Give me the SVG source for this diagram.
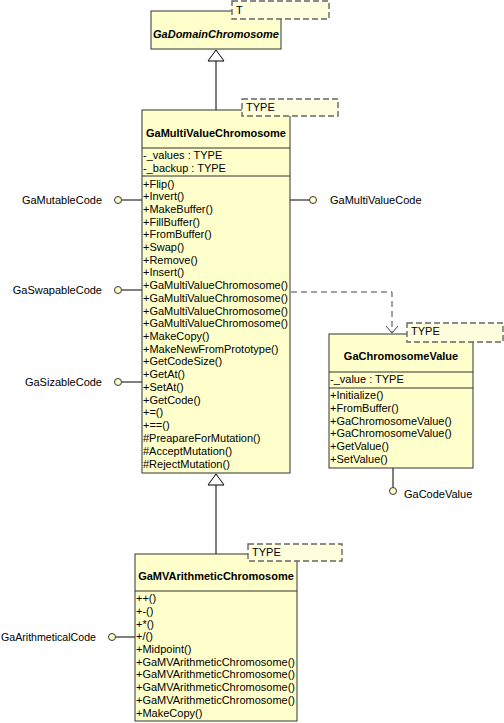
<svg xmlns="http://www.w3.org/2000/svg" width="504" height="723" viewBox="0 0 504 723">
<style>
.cls{fill:#ffffcc;stroke:#333;stroke-width:1}
.tpl{fill:#ffffdd;stroke:#666;stroke-width:1.4;stroke-dasharray:6,3}
.sep{stroke:#333;stroke-width:1}
text{font-family:"Liberation Sans",Arial,sans-serif;font-size:11px;fill:#000}
.name{font-weight:bold;text-anchor:middle}
.ital{font-style:italic}
.ln{stroke:#000;stroke-width:1;fill:none}
.dash{stroke:#444;stroke-width:1;fill:none;stroke-dasharray:6,4}
.lol{fill:#ffffcc;stroke:#333;stroke-width:1}
.tri{fill:#fff;stroke:#000;stroke-width:1}
</style>
<g id="connectors">
<line class="ln" x1="216" y1="61" x2="216" y2="110"/>
<polygon class="tri" points="216,50 208,61 224,61"/>
<line class="ln" x1="216" y1="485" x2="216" y2="554"/>
<polygon class="tri" points="216,474 208,485 224,485"/>
<polyline class="dash" points="291,292 392,292 392,333"/>
<polyline class="ln" points="386,326 392,333 398,326" style="stroke:#444"/>
<line class="ln" x1="122" y1="200" x2="142" y2="200"/>
<line class="ln" x1="122" y1="290" x2="142" y2="290"/>
<line class="ln" x1="122" y1="382" x2="142" y2="382"/>
<line class="ln" x1="290" y1="200" x2="309" y2="200"/>
<line class="ln" x1="116" y1="637" x2="135" y2="637"/>
<line class="ln" x1="393" y1="468" x2="393" y2="487"/>
</g>
<g id="GaMutableCode">
<circle class="lol" cx="118" cy="200" r="3.5"/>
<text x="102" y="204" text-anchor="end">GaMutableCode</text>
</g>
<g id="GaSwapableCode">
<circle class="lol" cx="118" cy="290" r="3.5"/>
<text x="102" y="294" text-anchor="end">GaSwapableCode</text>
</g>
<g id="GaSizableCode">
<circle class="lol" cx="118" cy="382" r="3.5"/>
<text x="102" y="386" text-anchor="end">GaSizableCode</text>
</g>
<g id="GaArithmeticalCode">
<circle class="lol" cx="112" cy="637" r="3.5"/>
<text x="1" y="641" textLength="95" lengthAdjust="spacingAndGlyphs">GaArithmeticalCode</text>
</g>
<g id="GaMultiValueCode">
<circle class="lol" cx="313" cy="200" r="3.5"/>
<text x="330" y="204">GaMultiValueCode</text>
</g>
<g id="GaCodeValue">
<circle class="lol" cx="393" cy="491" r="3.5"/>
<text x="404" y="498">GaCodeValue</text>
</g>
<g id="GaDomainChromosome">
<rect class="cls" x="151" y="11" width="130" height="38"/>
<rect class="tpl" x="232" y="1" width="97" height="18"/>
<text x="236" y="14">T</text>
<text class="name ital" x="216" y="38">GaDomainChromosome</text>
</g>
<g id="GaMultiValueChromosome">
<rect class="cls" x="142" y="110" width="148" height="363"/>
<line class="sep" x1="142" y1="148" x2="290" y2="148"/>
<line class="sep" x1="142" y1="176" x2="290" y2="176"/>
<rect class="tpl" x="242" y="99" width="96" height="17"/>
<text x="246" y="111">TYPE</text>
<text class="name" x="216" y="137">GaMultiValueChromosome</text>
<text x="143" y="159">-_values : TYPE</text>
<text x="143" y="172">-_backup : TYPE</text>
<text x="143" y="188">+Flip()</text>
<text x="143" y="200">+Invert()</text>
<text x="143" y="213">+MakeBuffer()</text>
<text x="143" y="226">+FillBuffer()</text>
<text x="143" y="238">+FromBuffer()</text>
<text x="143" y="251">+Swap()</text>
<text x="143" y="264">+Remove()</text>
<text x="143" y="276">+Insert()</text>
<text x="143" y="289">+GaMultiValueChromosome()</text>
<text x="143" y="302">+GaMultiValueChromosome()</text>
<text x="143" y="315">+GaMultiValueChromosome()</text>
<text x="143" y="327">+GaMultiValueChromosome()</text>
<text x="143" y="340">+MakeCopy()</text>
<text x="143" y="353">+MakeNewFromPrototype()</text>
<text x="143" y="365">+GetCodeSize()</text>
<text x="143" y="378">+GetAt()</text>
<text x="143" y="391">+SetAt()</text>
<text x="143" y="404">+GetCode()</text>
<text x="143" y="416">+=()</text>
<text x="143" y="429">+==()</text>
<text x="143" y="442">#PreapareForMutation()</text>
<text x="143" y="455">#AcceptMutation()</text>
<text x="143" y="468">#RejectMutation()</text>
</g>
<g id="GaChromosomeValue">
<rect class="cls" x="329" y="334" width="144" height="134"/>
<line class="sep" x1="329" y1="372" x2="473" y2="372"/>
<line class="sep" x1="329" y1="388" x2="473" y2="388"/>
<rect class="tpl" x="407" y="323" width="96" height="19"/>
<text x="411" y="335">TYPE</text>
<text class="name" x="401" y="360">GaChromosomeValue</text>
<text x="330" y="383">-_value : TYPE</text>
<text x="330" y="399">+Initialize()</text>
<text x="330" y="412">+FromBuffer()</text>
<text x="330" y="425">+GaChromosomeValue()</text>
<text x="330" y="437">+GaChromosomeValue()</text>
<text x="330" y="450">+GetValue()</text>
<text x="330" y="463">+SetValue()</text>
</g>
<g id="GaMVArithmeticChromosome">
<rect class="cls" x="135" y="554" width="162" height="167"/>
<line class="sep" x1="135" y1="591" x2="297" y2="591"/>
<rect class="tpl" x="248" y="544" width="94" height="17"/>
<text x="252" y="556">TYPE</text>
<text class="name" x="216" y="580">GaMVArithmeticChromosome</text>
<text x="136" y="602">++()</text>
<text x="136" y="615">+-()</text>
<text x="136" y="628">+*()</text>
<text x="136" y="640">+/()</text>
<text x="136" y="653">+Midpoint()</text>
<text x="136" y="666">+GaMVArithmeticChromosome()</text>
<text x="136" y="678">+GaMVArithmeticChromosome()</text>
<text x="136" y="691">+GaMVArithmeticChromosome()</text>
<text x="136" y="704">+GaMVArithmeticChromosome()</text>
<text x="136" y="717">+MakeCopy()</text>
</g>
</svg>
